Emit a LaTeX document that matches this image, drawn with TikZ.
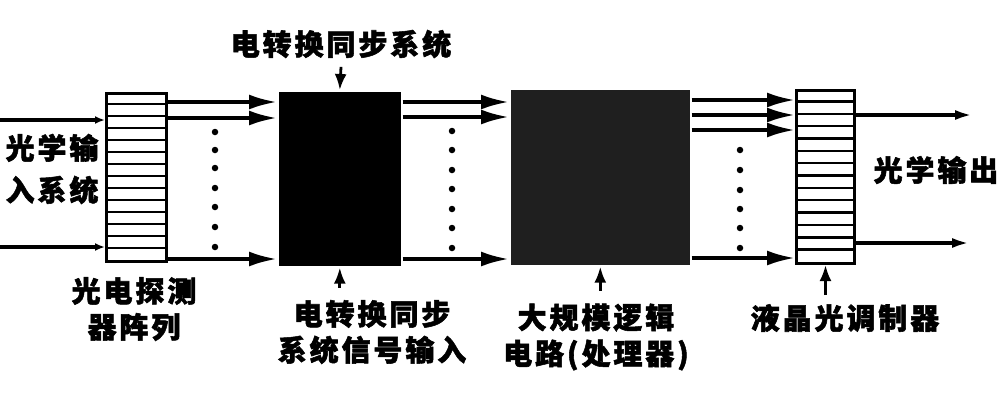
\documentclass[tikz,border=0pt]{standalone}
\usepackage{fontspec}
\setmainfont{Noto Sans CJK SC}[LetterSpace=10,BoldFeatures={FakeBold=1.8}]
\usetikzlibrary{arrows.meta}
\begin{document}
\begin{tikzpicture}[x=1pt,y=-1pt,line width=3.6pt,
  arr/.style={-{Latex[length=28pt,width=15pt]}},
  smallarr/.style={-{Latex[length=10pt,width=8pt]}},
  outarr/.style={-{Latex[length=18pt,width=10pt]}},
  uparr/.style={line width=2.8pt,-{Latex[length=16pt,width=12pt]}},
  lbl/.style={font=\fontsize{29}{36}\selectfont\bfseries,align=center,inner sep=0pt},
  dotc/.style={circle,fill,inner sep=0pt,minimum size=6.5pt},
  striped/.style={draw,line width=3pt,inner sep=0pt,anchor=north west},
  blk/.style={inner sep=0pt,anchor=north west}]
\useasboundingbox (0,0) rectangle (1004,408);
% boxes
\node[striped,minimum width=60pt,minimum height=168pt] (det) at (105,92) {};
\foreach \i in {1,...,13}
  \draw[line width=2.4pt] ([yshift=-\i*12pt]det.north west) -- ([yshift=-\i*12pt]det.north east);
\node[blk,fill=black,minimum width=122pt,minimum height=174pt] (sync) at (277,90) {};
\node[blk,fill=black!88,minimum width=179pt,minimum height=175pt] (lsi) at (509,88) {};
\node[striped,minimum width=58pt,minimum height=173pt] (mod) at (795,89) {};
\foreach \i in {1,...,13}
  \draw[line width=2.4pt] ([yshift=-\i*12.36pt]mod.north west) -- ([yshift=-\i*12.36pt]mod.north east);
% input arrows
\coordinate (inA) at (0,120);
\coordinate (inB) at (0,247);
\draw[smallarr] (inA) -- (det.west |- inA);
\draw[smallarr] (inB) -- (det.west |- inB);
% detector -> sync
\foreach \y in {102,118,259}
  \draw[arr] (det.east |- 0,\y) -- (sync.west |- 0,\y);
% sync -> lsi
\foreach \y in {102,117,259}
  \draw[arr] (sync.east |- 0,\y) -- (lsi.west |- 0,\y);
% lsi -> mod
\foreach \y in {100,115,130,258}
  \draw[arr] (lsi.east |- 0,\y) -- (mod.west |- 0,\y);
% outputs
\coordinate (outA) at (973,115);
\coordinate (outB) at (970,243);
\draw[outarr] (mod.east |- outA) -- (outA);
\draw[outarr] (mod.east |- outB) -- (outB);
% dots
\foreach \y [count=\k] in {132,150,168,188,207,227,247}
  \node[dotc] (da\k) at (215,\y) {};
\foreach \y [count=\k] in {131,150,170,189,209,228,248}
  \node[dotc] (db\k) at (452,\y) {};
\foreach \y [count=\k] in {150,170,190,209,228,248}
  \node[dotc] (dc\k) at (740,\y) {};
% labels
\node[lbl] (toplbl) at (341,44) {电转换同步系统};
\draw[uparr] ([yshift=-7pt]toplbl.south) -- (sync.north);
\node[lbl,font=\fontsize{29}{42}\selectfont\bfseries] (inlbl) at (52,169) {光学输\\入系统};
\node[lbl] (outlbl) at (936,170) {光学输出};
\node[lbl] (detlbl) at (134,309) {光电探测\\器阵列};
\node[lbl] (synclbl) at (372,332) {电转换同步\\系统信号输入};
\node[lbl] (lsilbl) at (596,337) {大规模逻辑\\电路(处理器)};
\node[lbl] (modlbl) at (845,318) {液晶光调制器};
\draw[uparr] ([yshift=-20pt]sync.south) -- (sync.south);
\draw[uparr] ([yshift=-24pt]lsi.south) -- (lsi.south);
\draw[uparr] ([yshift=-30pt]mod.south) -- (mod.south);
\end{tikzpicture}
\end{document}
